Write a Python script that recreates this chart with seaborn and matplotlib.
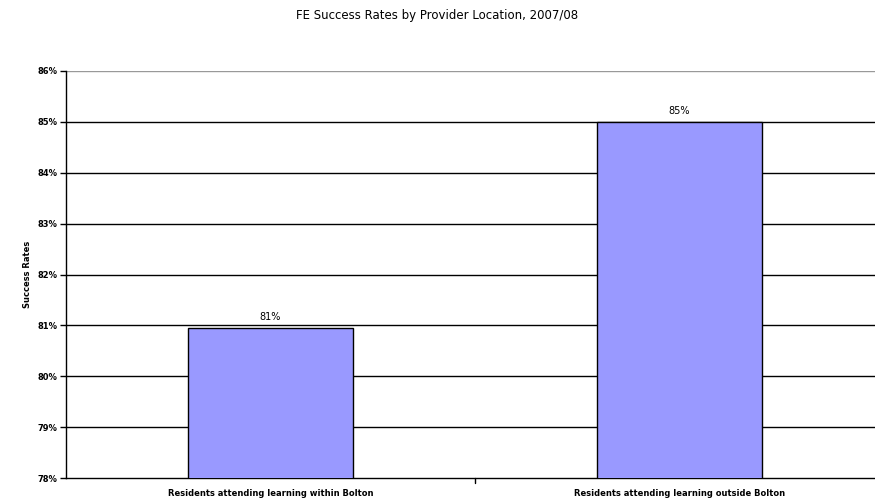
import matplotlib
matplotlib.use("Agg")
import matplotlib.pyplot as plt
import seaborn as sns
import pandas as pd

categories = ["Residents attending learning within Bolton",
              "Residents attending learning outside Bolton"]
values = [80.95, 85.0]
labels = ["81%", "85%"]
yticks = [78, 79, 80, 81, 82, 83, 84, 85, 86]

sns.set_theme(style="white")
plt.rcParams['font.family'] = ['DejaVu Sans']
plt.rcParams['text.color'] = 'black'
plt.rcParams['axes.labelcolor'] = 'black'
plt.rcParams['xtick.color'] = 'black'
plt.rcParams['ytick.color'] = 'black'

df = pd.DataFrame({"cat": categories, "val": values})
fig = plt.figure(figsize=(8.75, 5), dpi=100)
ax = fig.add_axes([0.0754, 0.044, 0.935, 0.814])
sns.barplot(data=df, x="cat", y="val", ax=ax, color="#9999FF", saturation=1,
            width=0.403, edgecolor="black", linewidth=1, zorder=3)
ax.set_xlim(-0.5, 1.5)
ax.set_ylim(78, 86)
ax.set_yticks(yticks)
ax.set_yticklabels([f"{t}%" for t in yticks], fontsize=6, fontweight="bold")
for t in yticks[1:-1]:
    ax.axhline(t, color="black", linewidth=1, zorder=1)
ax.axhline(yticks[-1], color="#999999", linewidth=1, zorder=1)
ax.tick_params(axis="y", direction="out", length=4, width=1, color="black", left=True, pad=2)
ax.tick_params(axis="x", labelsize=6, length=0, pad=8)
for lbl in ax.get_xticklabels():
    lbl.set_fontweight("bold")
ax.axvline(0.5, ymin=-0.012, ymax=0, color="black", linewidth=1, clip_on=False)
for i, (v, l) in enumerate(zip(values, labels)):
    ax.text(i, v + 0.12, l, ha="center", va="bottom", fontsize=7, color="black")
ax.set_xlabel("")
ax.set_ylabel("Success Rates", fontsize=6, fontweight="bold", labelpad=4)
for s in ["top", "right"]:
    ax.spines[s].set_visible(False)
ax.spines["left"].set_color("black")
ax.spines["bottom"].set_color("black")
ax.spines["left"].set_linewidth(1)
ax.spines["bottom"].set_linewidth(1)
fig.text(0.5, 0.97, "FE Success Rates by Provider Location, 2007/08", ha="center", va="center",
         fontsize=8.5, color="black")
fig.savefig("out.png", dpi=100)
